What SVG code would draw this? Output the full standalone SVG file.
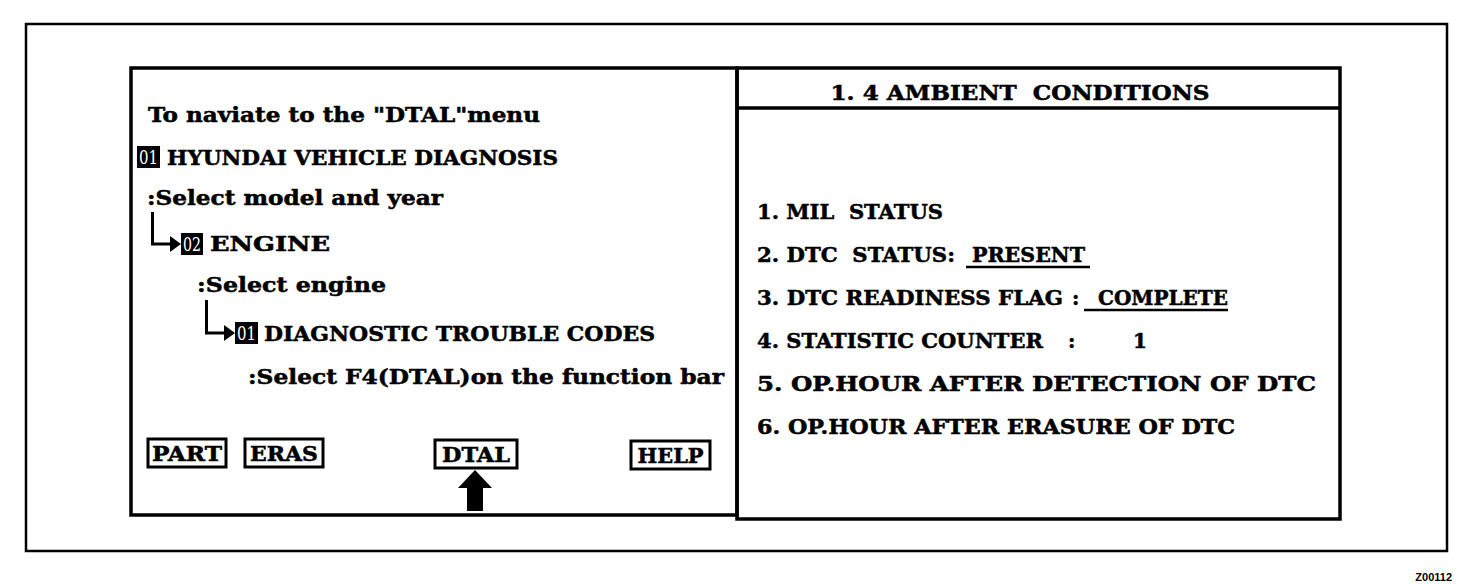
<svg xmlns="http://www.w3.org/2000/svg" width="1472" height="584" viewBox="0 0 1472 584" xml:space="preserve">
<style>
text{white-space:pre}
.t{font-family:"DejaVu Serif","Liberation Serif",serif;font-weight:bold;fill:#000;stroke:#000;stroke-width:0.5}
.l{font-size:20px}
.r{font-size:20px}
.num{font-family:"DejaVu Serif","Liberation Serif",serif;font-size:18px;fill:#fff}
.frame{fill:none;stroke:#000}
.btn{fill:#fff;stroke:#000;stroke-width:3}
.bt{font-family:"DejaVu Serif","Liberation Serif",serif;font-weight:bold;font-size:20px;fill:#000;stroke:#000;stroke-width:0.5}
.conn{fill:none;stroke:#000;stroke-width:3}
.ul{stroke:#000;stroke-width:2.5}
</style>
<rect width="1472" height="584" fill="#fff"/>
<rect class="frame" x="26" y="24" width="1421" height="527" stroke-width="2.5"/>
<g id="left-panel">
<rect class="frame" x="131" y="68" width="606" height="447" stroke-width="3.5"/>
<text class="t l" x="148" y="122" textLength="392" lengthAdjust="spacingAndGlyphs">To naviate to the "DTAL"menu</text>
</g>
<g id="node-01-hyundai">
<rect x="137" y="146" width="23" height="22" fill="#000"/>
<text class="num" x="148.5" y="164" text-anchor="middle" textLength="19" lengthAdjust="spacingAndGlyphs">01</text>
<text class="t l" x="167" y="165" textLength="391" lengthAdjust="spacingAndGlyphs">HYUNDAI VEHICLE DIAGNOSIS</text>
<text class="t l" x="147" y="205" textLength="296" lengthAdjust="spacingAndGlyphs">:Select model and year</text>
</g>
<g id="node-02-engine">
<rect x="181" y="233" width="22" height="22" fill="#000"/>
<text class="num" x="192" y="251" text-anchor="middle" textLength="18" lengthAdjust="spacingAndGlyphs">02</text>
<text class="t l" x="210" y="251" textLength="120" lengthAdjust="spacingAndGlyphs">ENGINE</text>
<text class="t l" x="197" y="292" textLength="189" lengthAdjust="spacingAndGlyphs">:Select engine</text>
</g>
<g id="node-01-dtc">
<rect x="235" y="322" width="23" height="22" fill="#000"/>
<text class="num" x="246.5" y="340" text-anchor="middle" textLength="19" lengthAdjust="spacingAndGlyphs">01</text>
<text class="t l" x="264" y="341" textLength="391" lengthAdjust="spacingAndGlyphs">DIAGNOSTIC TROUBLE CODES</text>
<text class="t l" x="248" y="384" textLength="476" lengthAdjust="spacingAndGlyphs">:Select F4(DTAL)on the function bar</text>
</g>
<g id="btn-part">
<rect class="btn" x="148" y="439" width="78" height="28"/>
<text class="bt" x="187" y="461" text-anchor="middle" textLength="70" lengthAdjust="spacingAndGlyphs">PART</text>
</g>
<g id="btn-eras">
<rect class="btn" x="245" y="439" width="78" height="28"/>
<text class="bt" x="284" y="461" text-anchor="middle" textLength="68" lengthAdjust="spacingAndGlyphs">ERAS</text>
</g>
<g id="btn-dtal">
<rect class="btn" x="435" y="440" width="82" height="28"/>
<text class="bt" x="476" y="462" text-anchor="middle" textLength="68" lengthAdjust="spacingAndGlyphs">DTAL</text>
</g>
<g id="btn-help">
<rect class="btn" x="631" y="441" width="79" height="28"/>
<text class="bt" x="670.5" y="463" text-anchor="middle" textLength="66" lengthAdjust="spacingAndGlyphs">HELP</text>
</g>
<g id="right-panel">
<rect class="frame" x="737" y="68" width="603" height="451" stroke-width="3.5"/>
<line x1="737" y1="108" x2="1340" y2="108" stroke="#000" stroke-width="3.5"/>
<text class="t r" x="1020" y="100" text-anchor="middle" textLength="379" lengthAdjust="spacingAndGlyphs">1. 4 AMBIENT  CONDITIONS</text>
<text class="t r" x="757" y="219" textLength="186" lengthAdjust="spacingAndGlyphs">1. MIL  STATUS</text>
<text class="t r" x="757" y="262" textLength="198" lengthAdjust="spacingAndGlyphs">2. DTC  STATUS:</text>
<text class="t r" x="972" y="262" textLength="113" lengthAdjust="spacingAndGlyphs">PRESENT</text>
<line class="ul" x1="966" y1="267" x2="1090" y2="267"/>
<text class="t r" x="757" y="305" textLength="306" lengthAdjust="spacingAndGlyphs">3. DTC READINESS FLAG</text>
<text class="t r" x="1072" y="305">:</text>
<text class="t r" x="1098" y="305" textLength="130" lengthAdjust="spacingAndGlyphs">COMPLETE</text>
<line class="ul" x1="1084" y1="310" x2="1228" y2="310"/>
<text class="t r" x="757" y="348" textLength="286" lengthAdjust="spacingAndGlyphs">4. STATISTIC COUNTER</text>
<text class="t r" x="1068" y="348">:</text>
<text class="t r" x="1133" y="348">1</text>
<text class="t r" x="757" y="391" textLength="559" lengthAdjust="spacingAndGlyphs">5. OP.HOUR AFTER DETECTION OF DTC</text>
<text class="t r" x="757" y="434" textLength="478" lengthAdjust="spacingAndGlyphs">6. OP.HOUR AFTER ERASURE OF DTC</text>
</g>
<g id="connectors">
<path class="conn" d="M152.5 212 V244 H172"/>
<polygon points="170,236 181,244 170,252" fill="#000"/>
<path class="conn" d="M206.5 300 V333 H226"/>
<polygon points="224,325 235,333 224,341" fill="#000"/>
<polygon points="475,470 492,488 483,488 483,511 467,511 467,488 458,488" fill="#000"/>
</g>
<text x="1452" y="581" text-anchor="end" font-family="Liberation Sans, sans-serif" font-weight="bold" font-size="11" fill="#000">Z00112</text>
</svg>
